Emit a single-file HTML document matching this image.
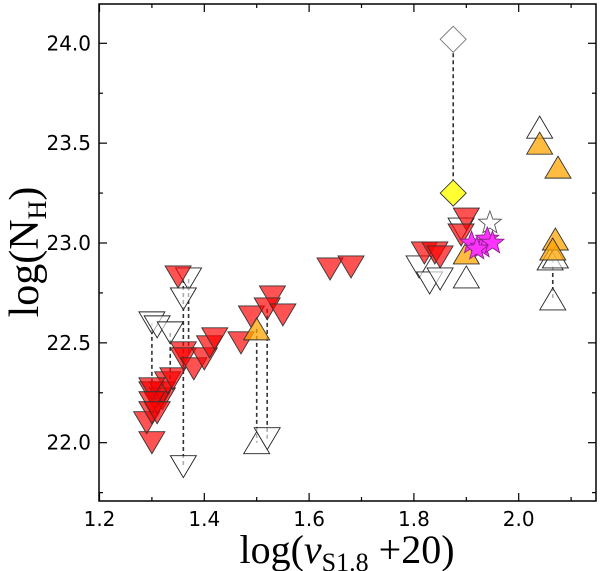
<!DOCTYPE html>
<html><head><meta charset="utf-8"><style>
body{margin:0;background:#fff}
svg{display:block}
text{font-family:"DejaVu Sans","Liberation Sans",sans-serif}
</style></head><body>
<svg id="c" width="600" height="571" viewBox="0 0 600 571" xmlns="http://www.w3.org/2000/svg"></svg>
<script>
const xTicks=[1.2,1.4,1.6,1.8,2.0];
const xTickLabels=["1.2","1.4","1.6","1.8","2.0"];
const yTicks=[22.0,22.5,23.0,23.5,24.0];
const yTickLabels=["22.0","22.5","23.0","23.5","24.0"];
const redX=[1.30,1.29,1.30,1.31,1.30,1.32,1.32,1.33,1.34,1.30,1.30,1.31,1.35,1.36,1.36,1.38,1.40,1.41,1.42,1.47,1.49,1.53,1.52,1.55,1.64,1.68,1.82,1.84,1.85,1.90,1.89];
const redY=[22.0,22.1,22.15,22.2,22.25,22.22,22.25,22.3,22.32,22.27,22.2,22.15,22.83,22.45,22.42,22.37,22.42,22.48,22.52,22.5,22.63,22.73,22.67,22.64,22.87,22.88,22.95,22.95,22.93,23.12,23.04];
const openDownX=[1.30,1.31,1.335,1.37,1.36,1.36,1.52,1.81,1.83,1.85,1.89];
const openDownY=[22.6,22.58,22.55,22.82,22.72,21.88,22.02,22.88,22.8,22.82,23.07];
const openUpX=[1.50,1.90,2.04,2.06,2.07,2.065];
const openUpY=[22.0,22.83,23.58,22.92,22.93,22.72];
const orangeX=[1.50,1.90,2.04,2.075,2.07,2.065];
const orangeY=[22.57,22.95,23.5,23.38,23.02,22.97];
const diamondX=[1.875,1.875];
const diamondY=[24.02,23.25];
const starX=[1.91,1.93,1.94,1.95,1.92];
const starY=[23.0,22.98,23.02,23.0,22.97];
const whiteStarX=[1.945];
const whiteStarY=[23.1];
const linkX=[1.875,1.30,1.335,1.36,1.37,1.50,1.52,2.065];
const linkY1=[24.02,22.6,22.55,22.82,22.82,22.57,22.67,22.92];
const linkY2=[23.25,22.27,22.3,21.88,22.45,22.0,22.02,22.72];

const L=99,R=596,T=4,B=501;
const sx=v=>99.5+(v-1.2)*524;
const sy=v=>442.7-(v-22.0)*199.7;
const svg=document.getElementById('c');
const NS='http://www.w3.org/2000/svg';
function mk(tag,attrs,parent){const e=document.createElementNS(NS,tag);for(const k in attrs)e.setAttribute(k,attrs[k]);(parent||svg).appendChild(e);return e;}

const gl=mk('g',{});


for(let i=0;i<linkX.length;i++){
 const l=mk('line',{x1:sx(linkX[i]),x2:sx(linkX[i]),y1:sy(linkY1[i]),y2:sy(linkY2[i]),stroke:'#333','stroke-width':1.6,'stroke-dasharray':'4,3'},gl);
 
 
}
function tri(x,y,down,fill,stroke,op,g,name){
 const cx=sx(x),cy=sy(y),w=13,h=11;
 const pts=down?`${cx-w},${cy-h} ${cx+w},${cy-h} ${cx},${cy+h}`:`${cx-w},${cy+h} ${cx+w},${cy+h} ${cx},${cy-h}`;
 const p=mk('polygon',{points:pts,fill:fill,'fill-opacity':op,stroke:stroke,'stroke-width':0.9},g);
 
 
}
function star(x,y,fill,stroke,g,name){
 const cx=sx(x),cy=sy(y);let pts=[];
 for(let k=0;k<10;k++){const r=k%2?5:12;const a=-Math.PI/2+k*Math.PI/5;pts.push((cx+r*Math.cos(a)).toFixed(1)+','+(cy+r*Math.sin(a)).toFixed(1));}
 const p=mk('polygon',{points:pts.join(' '),fill:fill,stroke:stroke,'stroke-width':0.9},g);
 
 
}
let g=mk('g',{});
for(let i=0;i<openDownX.length;i++)tri(openDownX[i],openDownY[i],true,'#fff','#222',0.6,g,'open-down-triangle');
g=mk('g',{});
for(let i=0;i<openUpX.length;i++)tri(openUpX[i],openUpY[i],false,'#fff','#222',0.6,g,'open-up-triangle');
g=mk('g',{});
for(let i=0;i<redX.length;i++)tri(redX[i],redY[i],true,'#ff0000','#333',0.68,g,'red-down-triangle');
g=mk('g',{});
for(let i=0;i<orangeX.length;i++)tri(orangeX[i],orangeY[i],false,'#ffa500','#333',0.75,g,'orange-up-triangle');
g=mk('g',{});
for(let i=0;i<diamondX.length;i++){const cx=sx(diamondX[i]),cy=sy(diamondY[i]);
 const p=mk('polygon',{points:`${cx},${cy-13} ${cx+13},${cy} ${cx},${cy+13} ${cx-13},${cy}`,fill:i?'#ffff33':'#fff',stroke:i?'#333':'#777','stroke-width':0.9},g);
 
 }
g=mk('g',{});
for(let i=0;i<whiteStarX.length;i++)star(whiteStarX[i],whiteStarY[i],'#fff','#555',g,'white-star');
for(let i=0;i<starX.length;i++)star(starX[i],starY[i],'#ff33ff','#882288',g,'magenta-star');

const fr=mk('rect',{x:L,y:T,width:R-L,height:B-T,fill:'none',stroke:'#000','stroke-width':1.5});


const ga=mk('g',{});
for(let k=12;k<=21;k++){const v=k/10;const X=sx(v);const major=k%2===0;const len=major?8:4;
 mk('line',{x1:X,x2:X,y1:B,y2:B-len,stroke:'#000','stroke-width':1.2},ga);mk('line',{x1:X,x2:X,y1:T,y2:T+len,stroke:'#000','stroke-width':1.2},ga);}
for(let k=0;k<=9;k++){const v=21.75+k*0.25;const Y=sy(v);const major=k%2===1;const len=major?8:4;
 mk('line',{x1:L,x2:L+len,y1:Y,y2:Y,stroke:'#000','stroke-width':1.2},ga);mk('line',{x1:R,x2:R-len,y1:Y,y2:Y,stroke:'#000','stroke-width':1.2},ga);}
for(let i=0;i<xTicks.length;i++){const t=mk('text',{x:sx(xTicks[i]),y:526,'font-size':20,'text-anchor':'middle'});t.textContent=xTickLabels[i];
 }
for(let i=0;i<yTicks.length;i++){const t=mk('text',{x:91,y:sy(yTicks[i])+7,'font-size':20,'text-anchor':'end'});t.textContent=yTickLabels[i];
 }
</script>
<svg width="600" height="571" style="position:absolute;left:0;top:0" xmlns="http://www.w3.org/2000/svg">
<text x="347" y="563" font-size="40" text-anchor="middle" style="font-family:'Liberation Serif',serif">log(<tspan font-style="italic">ν</tspan><tspan font-size="26" dy="8">S1.8</tspan><tspan dy="-8"> +20)</tspan></text>
<text transform="translate(38,252) rotate(-90)" font-size="42" text-anchor="middle" style="font-family:'Liberation Serif',serif">log(N<tspan font-size="26" dy="8">H</tspan><tspan dy="-8">)</tspan></text>
</svg>
</body></html>
